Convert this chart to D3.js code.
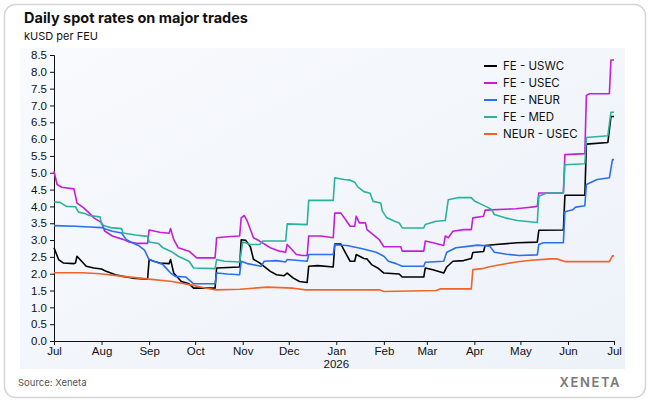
<!DOCTYPE html>
<html lang="en">
  <head>
    <meta charset="UTF-8" />
    <title>Daily spot rates on major trades</title>
    <script src="https://d3js.org/d3.v7.min.js"></script>
    <style>
      body {
        margin: 0;
        background: #fff;
        font-family: Inter, "Noto Sans", sans-serif;
      }
    </style>
  </head>
  <body>
    <div id="chart"></div>
    <script>
      // data (kUSD per FEU)
      const months = ["Jul", "Aug", "Sep", "Oct", "Nov", "Dec", "Jan", "Feb", "Mar", "Apr", "May", "Jun", "Jul"];
      const yTicks = [0, 0.5, 1, 1.5, 2, 2.5, 3, 3.5, 4, 4.5, 5, 5.5, 6, 6.5, 7, 7.5, 8, 8.5];
      const seriesNames = ["FE - USWC", "FE - USEC", "FE - NEUR", "FE - MED", "NEUR - USEC"];
      const seriesColors = ["#000000", "#c51fd6", "#2a6ff0", "#2ab39c", "#f0642a"];

      const feUswc = [
        ["2025-07-01", 2.77], ["2025-07-04", 2.42], ["2025-07-07", 2.32], ["2025-07-14", 2.3], ["2025-07-15", 2.32],
        ["2025-07-16", 2.52], ["2025-07-19", 2.37], ["2025-07-22", 2.22], ["2025-07-27", 2.17], ["2025-08-01", 2.14],
        ["2025-08-04", 2.07], ["2025-08-10", 1.97], ["2025-08-15", 1.92], ["2025-08-21", 1.87], ["2025-08-31", 1.84],
        ["2025-09-01", 2.42], ["2025-09-04", 2.37], ["2025-09-08", 2.32], ["2025-09-14", 2.3], ["2025-09-15", 2.42],
        ["2025-09-17", 2.02], ["2025-09-22", 1.77], ["2025-09-27", 1.7], ["2025-09-30", 1.57], ["2025-10-14", 1.57],
        ["2025-10-15", 2.17], ["2025-10-30", 2.2], ["2025-10-31", 3.01], ["2025-11-03", 2.99], ["2025-11-06", 2.8],
        ["2025-11-08", 2.43], ["2025-11-12", 2.32], ["2025-11-19", 2.07], ["2025-11-23", 1.97], ["2025-11-28", 1.94],
        ["2025-11-30", 2.02], ["2025-12-04", 1.87], ["2025-12-08", 1.77], ["2025-12-13", 1.74], ["2025-12-14", 2.22],
        ["2025-12-20", 2.24], ["2025-12-30", 2.2], ["2025-12-31", 2.88], ["2026-01-04", 2.88], ["2026-01-07", 2.62],
        ["2026-01-10", 2.37], ["2026-01-13", 2.37], ["2026-01-14", 2.57], ["2026-01-19", 2.45], ["2026-01-21", 2.44],
        ["2026-01-24", 2.27], ["2026-01-28", 2.17], ["2026-02-01", 2.02], ["2026-02-11", 1.99], ["2026-02-13", 1.9],
        ["2026-02-27", 1.9], ["2026-02-28", 2.17], ["2026-03-05", 2.12], ["2026-03-12", 2.02], ["2026-03-14", 2.2],
        ["2026-03-18", 2.37], ["2026-03-25", 2.39], ["2026-03-30", 2.45], ["2026-03-31", 2.63], ["2026-04-07", 2.66],
        ["2026-04-08", 2.84], ["2026-04-15", 2.87], ["2026-04-29", 2.92], ["2026-05-12", 2.94], ["2026-05-13", 3.29],
        ["2026-05-29", 3.3], ["2026-05-30", 4.33], ["2026-06-12", 4.33], ["2026-06-13", 5.85], ["2026-06-27", 5.9],
        ["2026-06-29", 6.67], ["2026-07-01", 6.67]
      ];

      const feUsec = [
        ["2025-07-01", 5.05], ["2025-07-03", 4.65], ["2025-07-06", 4.57], ["2025-07-14", 4.52], ["2025-07-16", 4.1],
        ["2025-07-20", 3.97], ["2025-07-24", 3.8], ["2025-07-27", 3.66], ["2025-08-01", 3.52], ["2025-08-03", 3.27],
        ["2025-08-08", 3.12], ["2025-08-15", 3.02], ["2025-08-19", 2.94], ["2025-08-25", 2.9], ["2025-08-31", 2.9],
        ["2025-09-01", 3.3], ["2025-09-08", 3.23], ["2025-09-14", 3.2], ["2025-09-15", 3.34], ["2025-09-17", 3.02],
        ["2025-09-20", 2.77], ["2025-09-27", 2.67], ["2025-10-02", 2.47], ["2025-10-14", 2.47], ["2025-10-15", 3.07],
        ["2025-10-22", 3.1], ["2025-10-30", 3.12], ["2025-10-31", 3.66], ["2025-11-02", 3.73], ["2025-11-04", 3.56],
        ["2025-11-08", 3.07], ["2025-11-12", 2.97], ["2025-11-19", 2.77], ["2025-11-25", 2.67], ["2025-11-29", 2.64],
        ["2025-11-30", 2.87], ["2025-12-02", 2.77], ["2025-12-06", 2.57], ["2025-12-10", 2.54], ["2025-12-13", 2.54],
        ["2025-12-14", 3.12], ["2025-12-22", 3.12], ["2025-12-30", 3.07], ["2025-12-31", 3.8], ["2026-01-04", 3.8],
        ["2026-01-07", 3.61], ["2026-01-10", 3.41], ["2026-01-13", 3.41], ["2026-01-14", 3.71], ["2026-01-16", 3.51],
        ["2026-01-20", 3.51], ["2026-01-21", 3.31], ["2026-01-25", 3.16], ["2026-01-29", 3.01], ["2026-02-01", 2.8],
        ["2026-02-12", 2.8], ["2026-02-13", 2.67], ["2026-02-27", 2.67], ["2026-02-28", 2.97], ["2026-03-05", 2.92],
        ["2026-03-12", 2.84], ["2026-03-13", 3.12], ["2026-03-15", 3.07], ["2026-03-18", 3.26], ["2026-03-25", 3.31],
        ["2026-03-30", 3.31], ["2026-03-31", 3.66], ["2026-04-07", 3.71], ["2026-04-08", 3.89], ["2026-04-28", 3.93],
        ["2026-05-06", 3.97], ["2026-05-12", 4.0], ["2026-05-13", 4.4], ["2026-05-29", 4.4], ["2026-05-30", 5.54],
        ["2026-06-12", 5.57], ["2026-06-13", 7.3], ["2026-06-15", 7.35], ["2026-06-28", 7.35], ["2026-06-29", 8.35],
        ["2026-07-01", 8.35]
      ];

      const feNeur = [
        ["2025-07-01", 3.43], ["2025-07-15", 3.41], ["2025-07-24", 3.39], ["2025-08-01", 3.37], ["2025-08-04", 3.32],
        ["2025-08-08", 3.26], ["2025-08-14", 3.21], ["2025-08-17", 3.02], ["2025-08-21", 2.92], ["2025-08-25", 2.84],
        ["2025-08-29", 2.7], ["2025-09-01", 2.42], ["2025-09-04", 2.37], ["2025-09-10", 2.27], ["2025-09-15", 2.02],
        ["2025-09-18", 1.92], ["2025-09-25", 1.9], ["2025-09-30", 1.7], ["2025-10-14", 1.7], ["2025-10-15", 2.02],
        ["2025-10-22", 1.99], ["2025-10-30", 1.97], ["2025-10-31", 2.37], ["2025-11-04", 2.3], ["2025-11-13", 2.22],
        ["2025-11-15", 2.37], ["2025-11-23", 2.39], ["2025-11-29", 2.35], ["2025-11-30", 2.42], ["2025-12-13", 2.37],
        ["2025-12-14", 2.57], ["2025-12-30", 2.57], ["2025-12-31", 2.86], ["2026-01-08", 2.84], ["2026-01-18", 2.74],
        ["2026-01-27", 2.64], ["2026-02-01", 2.52], ["2026-02-04", 2.37], ["2026-02-09", 2.3], ["2026-02-13", 2.22],
        ["2026-02-27", 2.22], ["2026-02-28", 2.34], ["2026-03-12", 2.37], ["2026-03-14", 2.64], ["2026-03-20", 2.77],
        ["2026-03-29", 2.82], ["2026-04-03", 2.85], ["2026-04-11", 2.82], ["2026-04-14", 2.64], ["2026-04-22", 2.58],
        ["2026-04-30", 2.54], ["2026-05-12", 2.56], ["2026-05-13", 2.87], ["2026-05-16", 2.92], ["2026-05-29", 2.92],
        ["2026-05-30", 3.84], ["2026-06-04", 3.9], ["2026-06-06", 3.98], ["2026-06-12", 4.02], ["2026-06-13", 4.65],
        ["2026-06-20", 4.8], ["2026-06-28", 4.85], ["2026-06-30", 5.39], ["2026-07-01", 5.39]
      ];

      const feMed = [
        ["2025-07-01", 4.13], ["2025-07-05", 4.12], ["2025-07-09", 4.0], ["2025-07-15", 3.99], ["2025-07-17", 3.83],
        ["2025-07-21", 3.79], ["2025-07-24", 3.73], ["2025-07-31", 3.69], ["2025-08-01", 3.46], ["2025-08-04", 3.41],
        ["2025-08-07", 3.37], ["2025-08-14", 3.34], ["2025-08-15", 3.21], ["2025-08-23", 3.15], ["2025-08-31", 3.11],
        ["2025-09-01", 2.94], ["2025-09-07", 2.9], ["2025-09-10", 2.77], ["2025-09-15", 2.67], ["2025-09-20", 2.52],
        ["2025-09-27", 2.37], ["2025-09-30", 2.17], ["2025-10-14", 2.15], ["2025-10-15", 2.42], ["2025-10-20", 2.37],
        ["2025-10-30", 2.35], ["2025-11-01", 2.94], ["2025-11-06", 2.87], ["2025-11-12", 2.87], ["2025-11-14", 2.97],
        ["2025-11-29", 2.97], ["2025-11-30", 3.48], ["2025-12-13", 3.46], ["2025-12-14", 4.18], ["2025-12-30", 4.18],
        ["2025-12-31", 4.85], ["2026-01-06", 4.8], ["2026-01-10", 4.78], ["2026-01-13", 4.72], ["2026-01-15", 4.58],
        ["2026-01-19", 4.44], ["2026-01-23", 4.39], ["2026-01-25", 4.15], ["2026-01-30", 4.1], ["2026-01-31", 3.86],
        ["2026-02-03", 3.66], ["2026-02-08", 3.56], ["2026-02-11", 3.51], ["2026-02-13", 3.36], ["2026-02-27", 3.36],
        ["2026-02-28", 3.46], ["2026-03-07", 3.56], ["2026-03-13", 3.58], ["2026-03-15", 4.2], ["2026-03-21", 4.26],
        ["2026-03-30", 4.26], ["2026-04-01", 4.16], ["2026-04-07", 4.03], ["2026-04-12", 3.92], ["2026-04-14", 3.76],
        ["2026-04-21", 3.66], ["2026-04-29", 3.58], ["2026-05-12", 3.52], ["2026-05-13", 4.3], ["2026-05-18", 4.4],
        ["2026-05-29", 4.4], ["2026-05-30", 5.24], ["2026-06-12", 5.27], ["2026-06-13", 6.05], ["2026-06-27", 6.1],
        ["2026-06-29", 6.8], ["2026-07-01", 6.8]
      ];

      const neurUsec = [
        ["2025-07-01", 2.03], ["2025-07-20", 2.03], ["2025-07-31", 2.0], ["2025-08-15", 1.92], ["2025-09-01", 1.84],
        ["2025-09-16", 1.77], ["2025-09-29", 1.66], ["2025-10-08", 1.57], ["2025-10-15", 1.52], ["2025-10-30", 1.54],
        ["2025-11-17", 1.6], ["2025-12-04", 1.57], ["2025-12-12", 1.52], ["2026-01-29", 1.52], ["2026-02-01", 1.47],
        ["2026-03-07", 1.5], ["2026-03-10", 1.55], ["2026-03-30", 1.55], ["2026-03-31", 2.12], ["2026-04-06", 2.15],
        ["2026-04-10", 2.2], ["2026-04-16", 2.25], ["2026-04-28", 2.35], ["2026-05-08", 2.4], ["2026-05-21", 2.44],
        ["2026-05-25", 2.44], ["2026-05-30", 2.36], ["2026-06-28", 2.36], ["2026-06-30", 2.53], ["2026-07-01", 2.53]
      ];

      const seriesData = [feUswc, feUsec, feNeur, feMed, neurUsec];

      const width = 650;
      const height = 402;
      const margin = { top: 55, right: 36, bottom: 61, left: 54 };
      const parse = d3.timeParse("%Y-%m-%d");

      const svg = d3
        .select("#chart")
        .append("svg")
        .attr("width", width)
        .attr("height", height)
        .style("font-family", "Inter, 'Noto Sans', sans-serif");

      // card frame
      svg
        .append("rect")
        .attr("x", 4.5)
        .attr("y", 4.5)
        .attr("width", width - 9)
        .attr("height", height - 9)
        .attr("rx", 11)
        .attr("fill", "#fff")
        .attr("stroke", "#d6d6d6")
        .attr("stroke-width", 1.5);

      // plot background
      const grad = svg
        .append("defs")
        .append("linearGradient")
        .attr("id", "bg")
        .attr("x1", 0)
        .attr("y1", 0)
        .attr("x2", 1)
        .attr("y2", 1);
      grad.append("stop").attr("offset", 0).attr("stop-color", "#f8fafd");
      grad.append("stop").attr("offset", 1).attr("stop-color", "#edf2f9");
      svg
        .append("rect")
        .attr("x", 20)
        .attr("y", 48)
        .attr("width", 605)
        .attr("height", 321)
        .attr("fill", "url(#bg)");

      svg
        .append("text")
        .attr("x", 24)
        .attr("y", 23)
        .attr("font-size", 14.5)
        .attr("font-weight", 700)
        .attr("fill", "#111")
        .text("Daily spot rates on major trades");
      svg
        .append("text")
        .attr("x", 24)
        .attr("y", 40)
        .attr("font-size", 11)
        .attr("fill", "#111")
        .text("kUSD per FEU");

      const x = d3
        .scaleTime()
        .domain([parse("2025-07-01"), parse("2026-07-01")])
        .range([margin.left, width - margin.right]);
      const y = d3
        .scaleLinear()
        .domain([0, 8.5])
        .range([height - margin.bottom, margin.top]);

      const tickDates = months.map((m, i) => d3.timeMonth.offset(parse("2025-07-01"), i));

      const xAxis = svg
        .append("g")
        .attr("transform", `translate(0,${height - margin.bottom})`)
        .call(
          d3
            .axisBottom(x)
            .tickValues(tickDates)
            .tickSize(4)
            .tickFormat((d, i) => months[i])
        );
      xAxis.selectAll("text").attr("font-size", 11.5).attr("fill", "#111").attr("y", 5).attr("dy", "0.75em");
      xAxis
        .append("text")
        .attr("x", x(parse("2026-01-01")))
        .attr("y", 27)
        .attr("text-anchor", "middle")
        .attr("font-size", 11.5)
        .attr("fill", "#111")
        .text("2026");

      const yAxis = svg
        .append("g")
        .attr("transform", `translate(${margin.left},0)`)
        .call(d3.axisLeft(y).tickValues(yTicks).tickSize(4).tickFormat(d3.format(".1f")));
      yAxis.selectAll("text").attr("font-size", 11.5).attr("fill", "#111");

      svg.selectAll(".domain").attr("stroke", "#111");
      svg.selectAll(".tick line").attr("stroke", "#111");

      const line = d3
        .line()
        .x((d) => x(parse(d[0])))
        .y((d) => y(d[1]));

      svg
        .append("g")
        .selectAll("path")
        .data(seriesData)
        .join("path")
        .attr("d", line)
        .attr("fill", "none")
        .attr("stroke", (d, i) => seriesColors[i])
        .attr("stroke-width", 1.6)
        .attr("stroke-linejoin", "round");

      // legend
      const legend = svg
        .append("g")
        .selectAll("g")
        .data(seriesNames)
        .join("g")
        .attr("transform", (d, i) => `translate(484,${66 + i * 17})`);
      legend
        .append("line")
        .attr("x1", 0)
        .attr("x2", 13)
        .attr("stroke", (d, i) => seriesColors[i])
        .attr("stroke-width", 2);
      legend
        .append("text")
        .attr("x", 19)
        .attr("dy", "0.35em")
        .attr("font-size", 11.5)
        .attr("fill", "#111")
        .text((d) => d);

      svg
        .append("text")
        .attr("x", 18)
        .attr("y", 386)
        .attr("font-size", 9.5)
        .attr("fill", "#555")
        .text("Source: Xeneta");
      svg
        .append("text")
        .attr("x", 621)
        .attr("y", 387)
        .attr("text-anchor", "end")
        .attr("font-size", 13)
        .attr("font-weight", 600)
        .attr("letter-spacing", 1.6)
        .attr("fill", "#7a7a7a")
        .text("XENETA");
    </script>
  </body>
</html>
